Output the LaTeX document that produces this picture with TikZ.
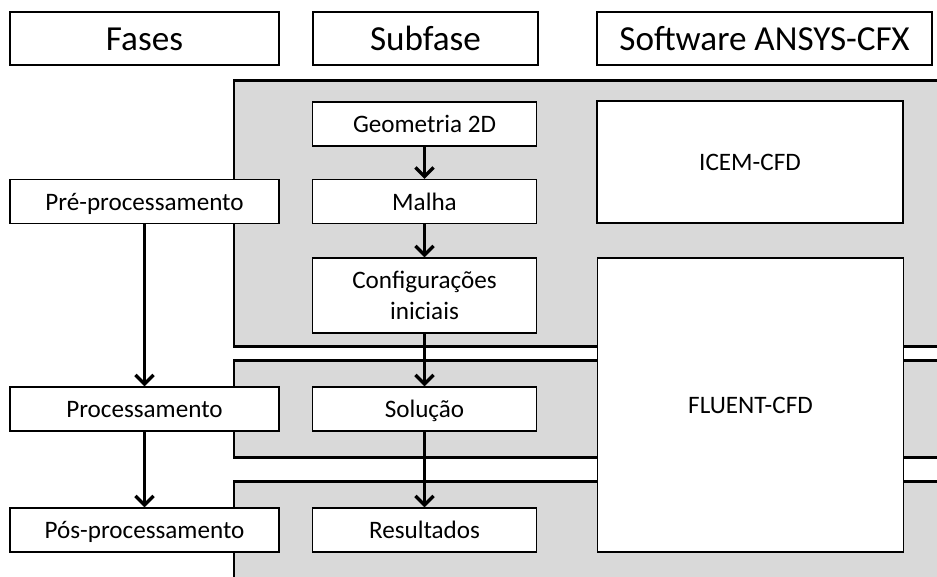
\documentclass[tikz,border=0pt]{standalone}
\usepackage{fontspec}
\setmainfont{Carlito}
\usetikzlibrary{positioning, arrows.meta}

\begin{document}
\begin{tikzpicture}[x=0.2mm, y=-0.2mm,
					>={Straight Barb[length=1.8mm, width=3.6mm]},
					box/.style={draw, fill=white, line width=0.85pt, inner sep=0pt,
						minimum height=8.8mm, text height=13pt, text depth=2.9pt,
						align=center, font=\fontsize{14.3}{18}\selectfont},
					head/.style={box, minimum height=10.6mm, text height=18pt, text depth=4.3pt,
						font=\fontsize{20}{24}\selectfont},
					fase/.style={box, minimum width=53.8mm},
					sub/.style={box, minimum width=44.8mm},
					soft/.style={box, minimum width=61.2mm},
					band/.style={fill=black!15},
					bandline/.style={line width=1.7pt}]

	\useasboundingbox (0,0) rectangle (937,576);

	% faixas cinzentas
	\fill[band] (234,80) rectangle (945,346);
	\fill[band] (234,360) rectangle (945,457);
	\fill[band] (234,481) rectangle (945,590);
	\draw[bandline] (945,80) -- (234,80) -- (234,346) -- (945,346);
	\draw[bandline] (945,360) -- (234,360) -- (234,457) -- (945,457);
	\draw[bandline] (945,481) -- (234,481) -- (234,590);

	% cabecalho
	\node[head, minimum width=53.8mm] (fases) at (144.5,38.5) {Fases};
	\node[head, minimum width=45mm] (subfase) at (425.5,38.5) {Subfase};
	\node[head, minimum width=67mm] (software) at (764.5,38.5) {Software ANSYS-CFX};

	\node[fase] (pre) at (144.5,201.5) {Pré-processamento};
	\node[fase] (proc) at (144.5,409) {Processamento};
	\node[fase] (pos) at (144.5,530) {Pós-processamento};

	\node[sub] (geo) at (424.5,124) {Geometria 2D};
	\node[sub] (malha) at (424.5,201.5) {Malha};
	\node[sub, minimum height=15mm, text height=, text depth=] (conf) at (424.5,295.5) {Configurações\\iniciais};
	\node[sub] (sol) at (424.5,409) {Solução};
	\node[sub] (res) at (424.5,530) {Resultados};

	\node[soft, minimum height=24.4mm] (icem) at (750,162) {ICEM-CFD};
	\node[soft, minimum height=58.8mm] (fluent) at (750.5,405) {FLUENT-CFD};

	\draw[->, line width=1.9pt]
			(geo) edge (malha)
			(malha) edge (conf)
			(conf) edge (sol)
			(sol) edge (res)
			(pre) edge (proc)
			(proc) edge (pos)
;
\end{tikzpicture}
\end{document}
